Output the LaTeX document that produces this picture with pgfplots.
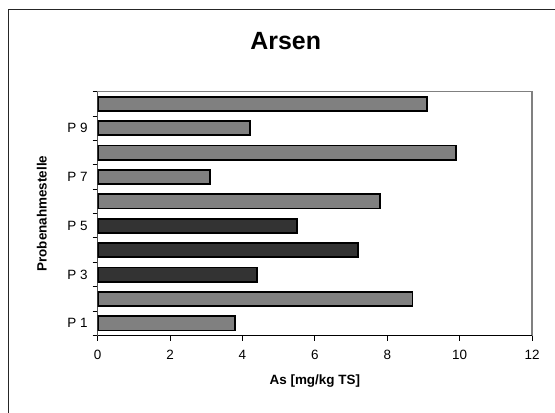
\documentclass[border=0pt]{standalone}
\usepackage{pgfplots}
\pgfplotsset{compat=1.18}
\usepackage{fontspec}
\setmainfont{Liberation Sans}
\definecolor{bargray}{HTML}{808080}
\definecolor{bardark}{HTML}{333333}
\begin{document}
\begin{tikzpicture}[x=1bp,y=1bp]
\useasboundingbox (0,0) rectangle (555,412);
\fill[white] (0,0) rectangle (555,412);
\draw[black!85, line width=1bp] (8.5bp,-2bp) -- (8.5bp,402bp) -- (557bp,402bp);
\node[font=\fontsize{25}{30}\selectfont\bfseries] at (285.7bp,371bp) {Arsen};
\begin{axis}[
  at={(97.7bp,76.5bp)}, anchor=south west, scale only axis,
  width=434.3bp, height=243.8bp,
  xbar, bar width=14.2bp, bar shift=0pt,
  xmin=0, xmax=12, ymin=0.5, ymax=10.5,
  xtick={0,2,...,12},
  ytick={0.5,1.5,2.5,3.5,4.5,5.5,6.5,7.5,8.5,9.5,10.5},
  yticklabels={,,,,,,,,,,},
  extra y ticks={1,3,5,7,9},
  extra y tick labels={P 1,P 3,P 5,P 7,P 9},
  extra y tick style={major tick length=0pt},
  xtick pos=bottom, ytick pos=left,
  tick align=outside, major tick length=5bp,
  tick style={black, line width=1bp},
  axis line style={draw=bargray, line width=1.5bp},
  /pgf/number format/assume math mode=true,
  tick label style={font=\fontsize{13.5}{16}\selectfont},
  xticklabel style={yshift=-6bp},
  yticklabel style={xshift=-6.5bp},
  label style={font=\fontsize{13.5}{16}\selectfont\bfseries},
  xlabel={As [mg/kg TS]},
  ylabel={Probenahmestelle},
  xlabel style={at={(axis description cs:0.5,-0.187)}, anchor=center},
  ylabel style={at={(axis description cs:-0.1287,0.5)}, anchor=center},
]
\addplot[draw=black, line width=1.8bp, fill=bargray] coordinates {
  (3.8,1) (8.7,2) (7.8,6) (3.1,7) (9.9,8) (4.2,9) (9.1,10)};
\addplot[draw=black, line width=1.8bp, fill=bardark] coordinates {
  (4.4,3) (7.2,4) (5.5,5)};
\draw[black, line width=1.5bp] (rel axis cs:0,1) -- (rel axis cs:0,0) -- (rel axis cs:1,0);
\end{axis}
\end{tikzpicture}
\end{document}
